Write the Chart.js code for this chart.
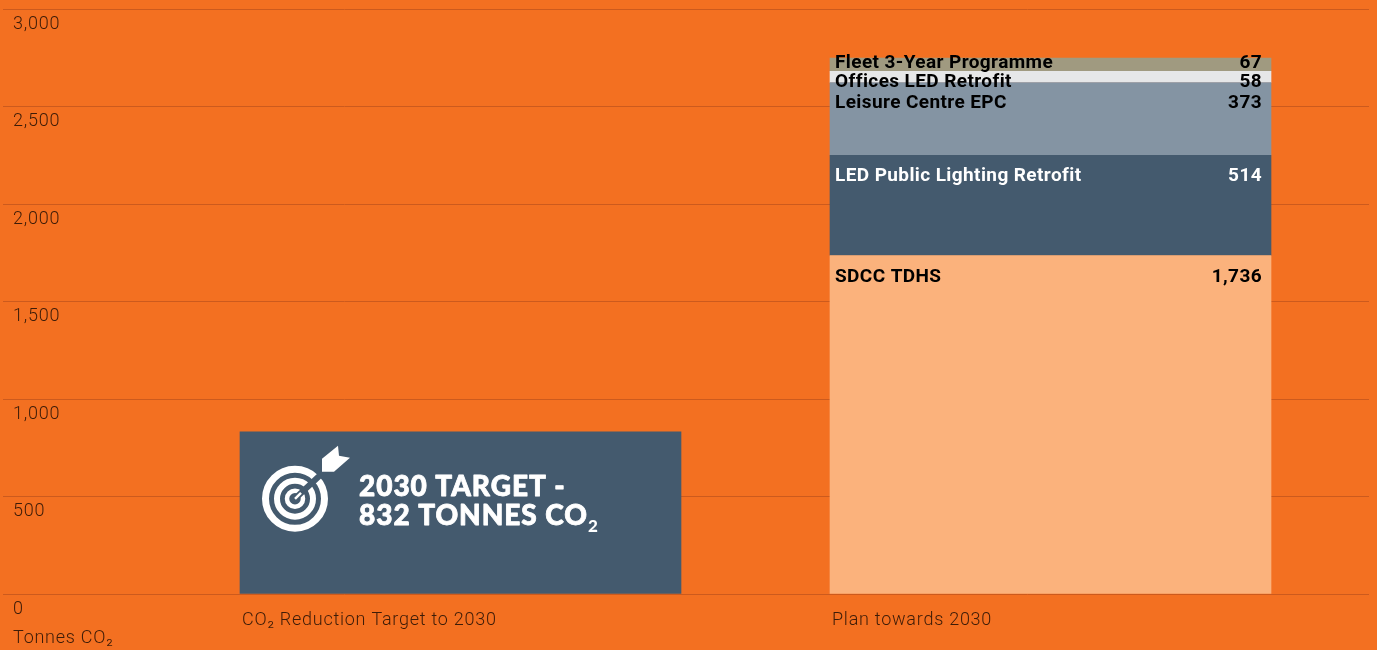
<!DOCTYPE html>
<html>
<head>
<meta charset="utf-8">
<title>Tonnes CO2 plan towards 2030</title>
<script src="https://cdn.jsdelivr.net/npm/chart.js@4/dist/chart.umd.min.js"></script>
<style>
    html, body { margin: 0; padding: 0; background: #f37021; overflow: hidden; }
    #wrap { width: 1377px; height: 650px; position: relative; }
</style>
</head>
<body>
<div id="wrap"><canvas id="chart" width="1377" height="650"></canvas></div>
<script>
// Chart data
const categories = ['CO\u2082 Reduction Target to 2030', 'Plan towards 2030'];
const yTicks = [0, 500, 1000, 1500, 2000, 2500, 3000];
const seriesNames = ['2030 Target', 'SDCC TDHS', 'LED Public Lighting Retrofit', 'Leisure Centre EPC', 'Offices LED Retrofit', 'Fleet 3-Year Programme'];
const targetValues = [832, null];
const tdhsValues = [null, 1736];
const ledLightingValues = [null, 514];
const leisureValues = [null, 373];
const officesValues = [null, 58];
const fleetValues = [null, 67];

const seriesValues = [targetValues, tdhsValues, ledLightingValues, leisureValues, officesValues, fleetValues];
const seriesColors = ['#445a6e', '#fbb27c', '#445a6e', '#8494a3', '#e6e7e8', '#a09a80'];
const labelColors = ['#ffffff', '#000000', '#ffffff', '#000000', '#000000', '#000000'];
const labelDrops = [0, 27, 26, 25, 16, 10];

const textColor = '#3d1c08';
const lightFont = '300 18px Roboto';

// Axis text is tracked out a little
const axisTracking = {
    id: 'axisTracking',
    beforeDraw(chart) {
        chart.ctx.letterSpacing = '0.75px';
    }
};

// Segment labels on the plan bar
const segmentLabels = {
    id: 'segmentLabels',
    afterDatasetsDraw(chart) {
        const ctx = chart.ctx;
        ctx.save();
        ctx.font = 'bold 19px Roboto';
        ctx.letterSpacing = '0.4px';
        ctx.textBaseline = 'alphabetic';
        for (let i = 1; i < seriesNames.length; i++) {
            const bar = chart.getDatasetMeta(i).data[1];
            const left = bar.x - bar.width / 2;
            const right = bar.x + bar.width / 2;
            ctx.fillStyle = labelColors[i];
            ctx.textAlign = 'left';
            ctx.fillText(seriesNames[i], left + 5, bar.y + labelDrops[i]);
            ctx.textAlign = 'right';
            ctx.fillText(seriesValues[i][1].toLocaleString('en-US'), right - 9, bar.y + labelDrops[i]);
        }
        ctx.restore();
    }
};

// Target icon and callout inside the first bar
const targetCallout = {
    id: 'targetCallout',
    afterDatasetsDraw(chart) {
        const ctx = chart.ctx;
        const bar = chart.getDatasetMeta(0).data[0];
        const ox = bar.x - bar.width / 2;
        const oy = bar.y;
        const dark = seriesColors[0];
        ctx.save();
        ctx.translate(ox, oy);

        // rings
        ctx.strokeStyle = '#ffffff';
        ctx.lineWidth = 7;
        ctx.beginPath();
        ctx.arc(55, 67, 29.5, 0, Math.PI * 2);
        ctx.stroke();
        ctx.lineWidth = 6;
        ctx.beginPath();
        ctx.arc(55, 67, 18, 0, Math.PI * 2);
        ctx.stroke();
        ctx.lineWidth = 4.5;
        ctx.beginPath();
        ctx.arc(55, 67, 8, 0, Math.PI * 2);
        ctx.stroke();

        // arrow shaft cuts through the rings
        ctx.strokeStyle = dark;
        ctx.lineWidth = 6;
        ctx.beginPath();
        ctx.moveTo(57, 65);
        ctx.lineTo(86, 38);
        ctx.stroke();
        ctx.strokeStyle = '#ffffff';
        ctx.lineWidth = 2.5;
        ctx.beginPath();
        ctx.moveTo(55, 67);
        ctx.lineTo(61, 61);
        ctx.stroke();

        // fletching
        ctx.fillStyle = '#ffffff';
        ctx.beginPath();
        ctx.moveTo(98, 14);
        ctx.lineTo(99, 24);
        ctx.lineTo(110, 26);
        ctx.lineTo(94, 40);
        ctx.lineTo(82, 40);
        ctx.lineTo(82, 27);
        ctx.closePath();
        ctx.fill();

        // callout text, thickened with a thin stroke
        ctx.font = '900 28px Lato';
        ctx.letterSpacing = '0.95px';
        ctx.textAlign = 'left';
        ctx.lineWidth = 0.8;
        ctx.lineJoin = 'round';
        ctx.fillText('2030 TARGET -', 119, 64);
        ctx.strokeText('2030 TARGET -', 119, 64);
        ctx.fillText('832 TONNES CO', 119, 93);
        ctx.strokeText('832 TONNES CO', 119, 93);
        const w = ctx.measureText('832 TONNES CO').width;
        ctx.font = '900 17px Lato';
        ctx.fillText('2', 119 + w, 100);
        ctx.restore();
    }
};

// Unit caption under the y axis
const unitCaption = {
    id: 'unitCaption',
    afterDraw(chart) {
        const ctx = chart.ctx;
        ctx.save();
        ctx.font = lightFont;
        ctx.letterSpacing = '0.75px';
        ctx.fillStyle = textColor;
        ctx.textAlign = 'left';
        ctx.fillText('Tonnes CO\u2082', 13, 643);
        ctx.restore();
    }
};

new Chart(document.getElementById('chart').getContext('2d'), {
    type: 'bar',
    data: {
        datasets: seriesNames.map((name, i) => ({
            label: name,
            stack: 'all',
            data: seriesValues[i].map((v, x) => ({ x: x, y: v })),
            backgroundColor: seriesColors[i],
            barThickness: 441
        }))
    },
    options: {
        responsive: false,
        animation: false,
        layout: { padding: { left: 3, right: 8, top: 9, bottom: 0 } },
        plugins: {
            legend: { display: false },
            title: { display: false },
            tooltip: { enabled: false }
        },
        scales: {
            x: {
                type: 'linear',
                offset: false,
                min: -0.77542,
                max: 1.53983,
                afterBuildTicks(scale) {
                    scale.ticks = categories.map((c, i) => ({ value: i }));
                },
                afterFit(scale) {
                    scale.height = 56;
                    scale.paddingLeft = 0;
                    scale.paddingRight = 0;
                },
                grid: { display: false },
                border: { display: false },
                ticks: {
                    autoSkip: false,
                    maxRotation: 0,
                    align: 'start',
                    labelOffset: -218.5,
                    padding: 8,
                    color: textColor,
                    font: { family: 'Roboto', weight: '300', size: 18 },
                    callback: value => categories[value]
                }
            },
            y: {
                stacked: true,
                min: 0,
                max: 3000,
                afterBuildTicks(scale) {
                    scale.ticks = yTicks.map(v => ({ value: v }));
                },
                afterFit(scale) {
                    scale.width = 0;
                    scale.paddingTop = 0;
                    scale.paddingBottom = 0;
                },
                grid: { color: '#cc5a1d', lineWidth: 1, drawTicks: false },
                border: { display: false },
                ticks: {
                    mirror: true,
                    padding: 10,
                    labelOffset: 15,
                    color: textColor,
                    font: { family: 'Roboto', weight: '300', size: 18 },
                    callback: value => value.toLocaleString('en-US')
                }
            }
        }
    },
    plugins: [axisTracking, segmentLabels, targetCallout, unitCaption]
});
</script>
</body>
</html>
